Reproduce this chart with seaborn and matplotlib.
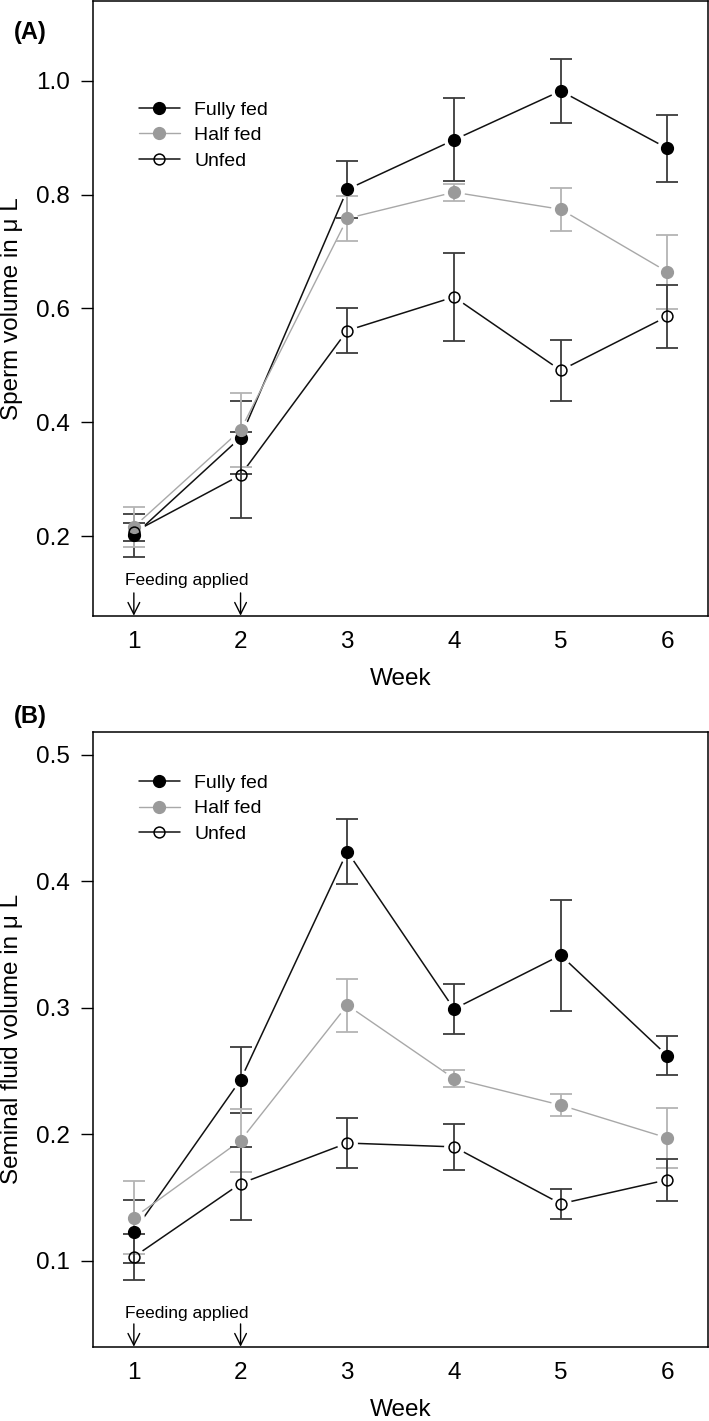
import matplotlib
matplotlib.use("Agg")
import matplotlib.pyplot as plt
import seaborn as sns
import numpy as np
import pandas as pd
from matplotlib.lines import Line2D

# ---------------- data ----------------
weeks = [1, 2, 3, 4, 5, 6]
groups = ["Fully fed", "Half fed", "Unfed"]

sperm_full = [0.201, 0.373, 0.809, 0.896, 0.982, 0.881]
sperm_full_se = [0.037, 0.064, 0.050, 0.073, 0.056, 0.059]
sperm_half = [0.216, 0.386, 0.758, 0.804, 0.774, 0.664]
sperm_half_se = [0.035, 0.065, 0.039, 0.015, 0.038, 0.065]
sperm_unfed = [0.207, 0.307, 0.561, 0.620, 0.491, 0.586]
sperm_unfed_se = [0.016, 0.075, 0.040, 0.078, 0.053, 0.055]

fluid_full = [0.123, 0.243, 0.4235, 0.299, 0.3415, 0.262]
fluid_full_se = [0.025, 0.026, 0.026, 0.0195, 0.044, 0.0155]
fluid_half = [0.134, 0.195, 0.302, 0.244, 0.223, 0.197]
fluid_half_se = [0.029, 0.025, 0.021, 0.007, 0.0085, 0.0235]
fluid_unfed = [0.103, 0.161, 0.193, 0.190, 0.145, 0.164]
fluid_unfed_se = [0.018, 0.029, 0.0195, 0.018, 0.012, 0.0165]

sperm_yticks = [0.2, 0.4, 0.6, 0.8, 1.0]
fluid_yticks = [0.1, 0.2, 0.3, 0.4, 0.5]
feeding_weeks = [1, 2]


def long_frame(full, half, unfed, full_se, half_se, unfed_se):
    rows = []
    for g, vals, ses in zip(groups, [full, half, unfed], [full_se, half_se, unfed_se]):
        for w, v, s in zip(weeks, vals, ses):
            rows.append({"Week": w, "Value": v, "SE": s, "Group": g})
    return pd.DataFrame(rows)


df_sperm = long_frame(sperm_full, sperm_half, sperm_unfed,
                      sperm_full_se, sperm_half_se, sperm_unfed_se)
df_fluid = long_frame(fluid_full, fluid_half, fluid_unfed,
                      fluid_full_se, fluid_half_se, fluid_unfed_se)

# ---------------- style ----------------
sns.set_theme(style="white")
plt.rcParams["font.family"] = ["Liberation Sans", "DejaVu Sans"]
plt.rcParams["text.color"] = "black"
plt.rcParams["axes.labelcolor"] = "black"
plt.rcParams["xtick.color"] = "black"
plt.rcParams["ytick.color"] = "black"

styles = {
    "Fully fed": dict(line="#111111", lw=1.1, err="#3c3c3c", mfc="black", mec="black", ms=8.5, mew=1.0),
    "Half fed": dict(line="#a8a8a8", lw=1.0, err="#b4b4b4", mfc="#9a9a9a", mec="#9a9a9a", ms=8.5, mew=1.0),
    "Unfed": dict(line="#111111", lw=1.1, err="#3c3c3c", mfc="none", mec="black", ms=7.8, mew=1.1),
}

fig = plt.figure(figsize=(7.09, 14.21), dpi=100)
W, H = 709.0, 1421.0
ax_left = 93.3 / W
ax_w = (708.0 - 93.3) / W
ax_h = 614.7 / H
axA = fig.add_axes([ax_left, 1 - (1.0 + 614.7) / H, ax_w, ax_h])
axB = fig.add_axes([ax_left, 1 - 1346.7 / H, ax_w, ax_h])


def draw_panel(ax, df, ylim, yticks, ylabel, feed_text_y, arrow_top, legend_top):
    # connecting lines
    for g in groups:
        st = styles[g]
        sub = df[df["Group"] == g]
        sns.lineplot(data=sub, x="Week", y="Value", ax=ax, color=st["line"],
                     lw=st["lw"], errorbar=None, legend=False, zorder=2)
    # white gaps around points (R type="b" look)
    for g in groups:
        sub = df[df["Group"] == g]
        ax.plot(sub["Week"], sub["Value"], ls="none", marker="o", ms=15,
                mfc="white", mec="none", zorder=3)
    # error bars
    for g in groups:
        st = styles[g]
        sub = df[df["Group"] == g]
        ax.errorbar(sub["Week"], sub["Value"], yerr=sub["SE"], fmt="none",
                    ecolor=st["err"], elinewidth=1.3, capsize=8, capthick=1.3, zorder=4)
    # points
    for g in groups:
        st = styles[g]
        sub = df[df["Group"] == g]
        ax.plot(sub["Week"], sub["Value"], ls="none", marker="o", ms=st["ms"],
                mfc=st["mfc"], mec=st["mec"], mew=st["mew"], zorder=5)

    ax.set_xlim(0.62, 6.38)
    ax.set_ylim(*ylim)
    ax.set_xticks(weeks)
    ax.set_xticklabels([str(w) for w in weeks])
    ax.set_yticks(yticks)
    ax.set_yticklabels([f"{t:.1f}" for t in yticks])
    ax.tick_params(axis="y", direction="out", length=9, width=1.0, pad=8,
                   labelsize=17.5, left=True, color="black", labelcolor="black")
    ax.tick_params(axis="x", length=0, pad=11, labelsize=17.5, labelcolor="black")
    ax.set_xlabel("Week", fontsize=17.5)
    ax.set_ylabel(ylabel, fontsize=17.5)
    ax.xaxis.set_label_coords(0.5, -0.085)
    ax.yaxis.set_label_coords(-0.1144, 0.5)
    for sp in ax.spines.values():
        sp.set_visible(True)
        sp.set_color("black")
        sp.set_linewidth(1.1)
    ax.grid(False)

    # feeding annotation
    ax.text(1.5, feed_text_y, "Feeding applied", ha="center", va="center", fontsize=12.5)
    for w in feeding_weeks:
        ax.annotate("", xy=(w, ylim[0]), xytext=(w, arrow_top),
                    arrowprops=dict(arrowstyle="->,head_length=0.7,head_width=0.35",
                                    lw=1.0, color="black", shrinkA=0, shrinkB=0,
                                    mutation_scale=12),
                    annotation_clip=False)

    handles = [Line2D([0], [0], color=styles[g]["line"], lw=styles[g]["lw"], marker="o",
                      ms=styles[g]["ms"], mfc=styles[g]["mfc"], mec=styles[g]["mec"],
                      mew=styles[g]["mew"]) for g in groups]
    ax.legend(handles, groups, loc="upper left", bbox_to_anchor=(0.074, legend_top),
              frameon=False, fontsize=14, handlelength=2.1, handletextpad=0.75,
              labelspacing=0.40, borderpad=0, borderaxespad=0)
    return ax


draw_panel(axA, df_sperm, (0.06, 1.14), sperm_yticks, "Sperm volume in \u03bc L",
           0.122, 0.10, 0.837)
draw_panel(axB, df_fluid, (0.032, 0.518), fluid_yticks, "Seminal fluid volume in \u03bc L",
           0.058, 0.050, 0.931)

fig.text(14 / W, 1 - 32 / H, "(A)", fontsize=17, fontweight="bold", ha="left", va="center")
fig.text(14 / W, 1 - 716 / H, "(B)", fontsize=17, fontweight="bold", ha="left", va="center")

fig.savefig("out.png", dpi=100)
